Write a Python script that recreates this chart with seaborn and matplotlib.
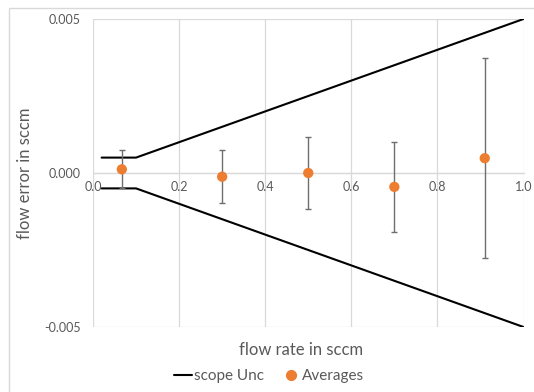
import matplotlib
matplotlib.use("Agg")
import matplotlib.pyplot as plt
import seaborn as sns
import pandas as pd
from matplotlib.patches import Rectangle
from matplotlib.lines import Line2D

# ---- data ----
unc_x = [0.02, 0.1, 1.0]
unc_upper = [0.0005, 0.0005, 0.005]
unc_lower = [-0.0005, -0.0005, -0.005]

avg_x = [0.067, 0.3, 0.5, 0.7, 0.91]
avg_y = [0.00012, -0.00012, 0.0, -0.00045, 0.00048]
avg_err = [0.00062, 0.00087, 0.00116, 0.00147, 0.00325]

x_ticks = [0.0, 0.2, 0.4, 0.6, 0.8, 1.0]
x_ticklabels = ["0.0", "0.2", "0.4", "0.6", "0.8", "1.0"]
y_ticks = [-0.005, 0.0, 0.005]
y_ticklabels = ["-0.005", "0.000", "0.005"]

sns.set_theme(style="white")
plt.rcParams['font.family'] = ['Lato', 'DejaVu Sans']

GRAY_TXT = "#595959"
GRID = "#D9D9D9"
ORANGE = "#ED7D31"

fig = plt.figure(figsize=(5.34, 3.92), dpi=100)
ax = fig.add_axes([93/534, 1-327/392, (523.5-93)/534, (327-19)/392])

df_up = pd.DataFrame({"x": unc_x, "y": unc_upper})
df_lo = pd.DataFrame({"x": unc_x, "y": unc_lower})
sns.lineplot(data=df_up, x="x", y="y", ax=ax, color="black", lw=1.5, zorder=3)
sns.lineplot(data=df_lo, x="x", y="y", ax=ax, color="black", lw=1.5, zorder=3)

ax.errorbar(avg_x, avg_y, yerr=avg_err, fmt="none", ecolor="#6E6E6E",
            elinewidth=1.0, capsize=2, capthick=1.0, zorder=4)
df_avg = pd.DataFrame({"x": avg_x, "y": avg_y})
sns.scatterplot(data=df_avg, x="x", y="y", ax=ax, color=ORANGE, s=55,
                edgecolor="none", zorder=5)

ax.set_xlim(0, 1.0)
ax.set_ylim(-0.005, 0.005)
ax.set_xticks(x_ticks)
ax.set_xticklabels(x_ticklabels)
ax.set_yticks(y_ticks)
ax.set_yticklabels(y_ticklabels)

ax.grid(True, color=GRID, lw=0.9, zorder=0)
ax.set_axisbelow(True)
for s in ["top", "right", "left"]:
    ax.spines[s].set_visible(False)
ax.spines["bottom"].set_position(("data", 0))
ax.spines["bottom"].set_color(GRID)
ax.spines["bottom"].set_linewidth(0.9)

ax.tick_params(axis="x", length=0, pad=6, labelsize=9, labelcolor=GRAY_TXT)
ax.tick_params(axis="y", length=0, pad=9, labelsize=9, labelcolor=GRAY_TXT)

ax.set_xlabel("flow rate in sccm", fontsize=12, color=GRAY_TXT)
ax.set_ylabel("flow error in sccm", fontsize=12, color=GRAY_TXT)
ax.xaxis.set_label_coords(0.483, -0.05)
ax.yaxis.set_label_coords(-0.139, 0.5)

handles = [Line2D([0], [0], color="black", lw=1.5),
           Line2D([0], [0], marker="o", color=ORANGE, lw=0, markersize=7)]
fig.legend(handles, ["scope Unc", "Averages"], loc="center",
           bbox_to_anchor=(269/534, 1-376/392), ncol=2, frameon=False,
           fontsize=11, labelcolor=GRAY_TXT, handlelength=1.2,
           handletextpad=0.1, columnspacing=1.2)

fig.patches.append(Rectangle((8.5/534, -0.1), 1.2, 1 - 7.5/392 + 0.1,
                             transform=fig.transFigure, fill=False,
                             edgecolor="#D9D9D9", lw=1.0))

fig.savefig("out.png", dpi=100)
